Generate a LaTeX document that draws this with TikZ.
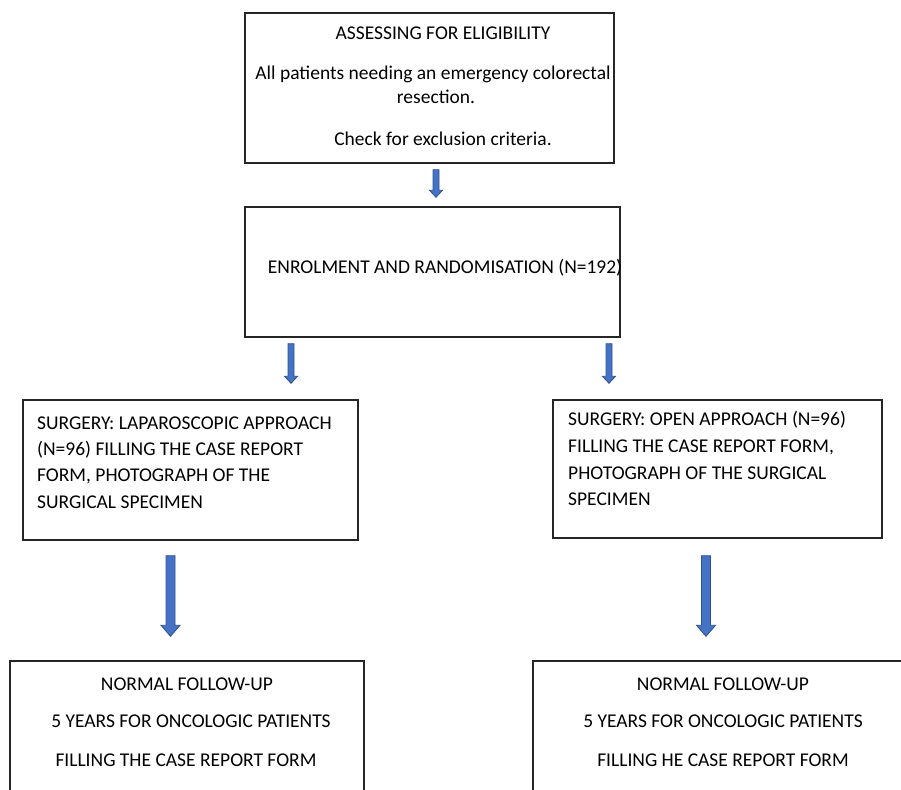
\documentclass[tikz,border=0pt]{standalone}
\usepackage{fontspec}
\setmainfont{Carlito}
\usetikzlibrary{calc}
\definecolor{arrowfill}{HTML}{4472C4}
\definecolor{arrowline}{HTML}{2F528F}
\definecolor{boxline}{HTML}{262626}
\tikzset{
  box/.style={draw=boxline, line width=1.4pt, rectangle, inner sep=0pt},
  txt/.style={inner sep=0pt, font=\fontsize{19.5}{22}\selectfont, text=black},
  ltxt/.style={txt, anchor=west},
  arrowshape/.style={fill=arrowfill, draw=arrowline, line width=0.8pt, line join=miter}
}
% #1 start, #2 end, #3 shaft half width, #4 head half width, #5 head length
\newcommand{\fatarrow}[5]{%
  \path[arrowshape] let \p1=(#1), \p2=(#2) in
    (\x1-#3,\y1) -- (\x1+#3,\y1) -- (\x1+#3,\y2+#5) -- (\x1+#4,\y2+#5)
    -- (\x1,\y2) -- (\x1-#4,\y2+#5) -- (\x1-#3,\y2+#5) -- cycle;}
\begin{document}
\begin{tikzpicture}[x=1pt,y=-1pt]
\useasboundingbox (0,0) rectangle (901,789);
\clip (0,0) rectangle (901,789);
% boxes
\node[box, minimum width=369pt, minimum height=150pt] (b1) at (429.5,88) {};
\node[box, minimum width=375pt, minimum height=130pt] (b2) at (432.5,272) {};
\node[box, minimum width=335pt, minimum height=140pt] (b3l) at (190.5,470) {};
\node[box, minimum width=329pt, minimum height=138pt] (b3r) at (717.5,469) {};
\node[box, minimum width=354pt, minimum height=150pt] (b4l) at (187,736) {};
\node[box, minimum width=380pt, minimum height=150pt] (b4r) at (723,736) {};
% texts box 1
\node[txt] (t1a) at (443,33) {ASSESSING FOR ELIGIBILITY};
\node[txt] (t1b) at (433,74) {All patients needing an emergency colorectal};
\node[txt] (t1c) at (436,97) {resection.};
\node[txt] (t1d) at (443,139) {Check for exclusion criteria.};
% box 2
\node[txt] (t2) at (445,268) {ENROLMENT AND RANDOMISATION (N=192)};
% box 3 left
\node[ltxt] (t3a) at (37,423) {SURGERY: LAPAROSCOPIC APPROACH};
\node[ltxt] (t3b) at (37,450) {(N=96) FILLING THE CASE REPORT};
\node[ltxt] (t3c) at (37,476) {FORM, PHOTOGRAPH OF THE};
\node[ltxt] (t3d) at (37,502) {SURGICAL SPECIMEN};
% box 3 right
\node[ltxt] (t4a) at (568,420) {SURGERY: OPEN APPROACH (N=96)};
\node[ltxt] (t4b) at (568,447) {FILLING THE CASE REPORT FORM,};
\node[ltxt] (t4c) at (568,473) {PHOTOGRAPH OF THE SURGICAL};
\node[ltxt] (t4d) at (568,499) {SPECIMEN};
% box 4 left
\node[txt] (t5a) at (187,684) {NORMAL FOLLOW-UP};
\node[txt] (t5b) at (191,721) {5 YEARS FOR ONCOLOGIC PATIENTS};
\node[txt] (t5c) at (186,760) {FILLING THE CASE REPORT FORM};
% box 4 right
\node[txt] (t6a) at (723,684) {NORMAL FOLLOW-UP};
\node[txt] (t6b) at (723,721) {5 YEARS FOR ONCOLOGIC PATIENTS};
\node[txt] (t6c) at (723,760) {FILLING HE CASE REPORT FORM};
% arrow end points
\coordinate (a1s) at ($(b1.south)+(6.5,6)$);
\coordinate (a1e) at ($(b2.north)+(6.5,-9)$);
\coordinate (a2s) at ($(b2.south)+(-141.5,6)$);
\coordinate (a2e) at ($(b3l.north)+(100.5,-16)$);
\coordinate (a3s) at ($(b2.south)+(176.5,6)$);
\coordinate (a3e) at ($(b3r.north)+(-108.5,-16)$);
\coordinate (a4s) at ($(b3l.south)+(-20,15)$);
\coordinate (a4e) at ($(b4l.north)+(-16.5,-24)$);
\coordinate (a5s) at ($(b3r.south)+(-11.5,17)$);
\coordinate (a5e) at ($(b4r.north)+(-17,-24)$);
% arrows
\fatarrow{a1s}{a1e}{3}{6.5}{7}
\fatarrow{a2s}{a2e}{3}{6.5}{7}
\fatarrow{a3s}{a3e}{3}{6.5}{7}
\fatarrow{a4s}{a4e}{4.5}{9.5}{11}
\fatarrow{a5s}{a5e}{4.5}{9.5}{11}
\end{tikzpicture}
\end{document}
